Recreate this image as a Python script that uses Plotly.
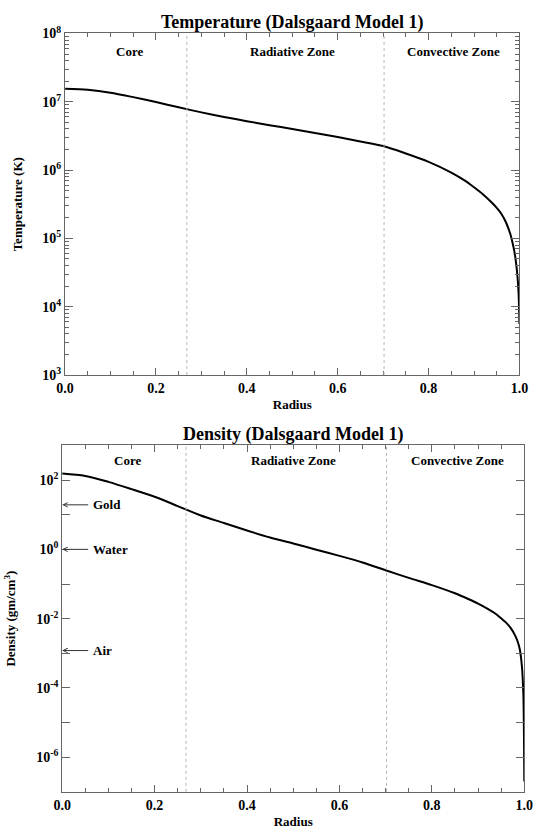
import math
import plotly.graph_objects as go

# ---------------- data ----------------
RADIUS_T = [0.0, 0.05, 0.1, 0.15, 0.2, 0.25, 0.3, 0.35, 0.4, 0.45, 0.5, 0.55, 0.6,
            0.65, 0.7, 0.75, 0.8, 0.85, 0.88, 0.9, 0.92, 0.94, 0.95, 0.96, 0.97,
            0.98, 0.985, 0.99, 0.995, 0.998, 0.999, 1.0]
TEMPERATURE = [1.55e7, 1.50e7, 1.36e7, 1.17e7, 9.9e6, 8.3e6, 7.0e6, 6.0e6, 5.2e6,
               4.55e6, 4.0e6, 3.5e6, 3.05e6, 2.62e6, 2.25e6, 1.75e6, 1.32e6, 9.2e5,
               7.0e5, 5.6e5, 4.4e5, 3.3e5, 2.8e5, 2.3e5, 1.74e5, 1.15e5, 8.5e4,
               5.8e4, 3.1e4, 1.6e4, 1.0e4, 5.6e3]

RADIUS_D = [0.0, 0.05, 0.1, 0.15, 0.2, 0.25, 0.3, 0.35, 0.4, 0.45, 0.5, 0.55, 0.6,
            0.65, 0.7, 0.75, 0.8, 0.85, 0.88, 0.9, 0.92, 0.94, 0.95, 0.96, 0.97,
            0.98, 0.985, 0.99, 0.995, 0.998, 0.999, 0.9995, 1.0]
DENSITY = [155, 132, 89, 55, 33, 17.8, 9.5, 5.8, 3.5, 2.2, 1.48, 0.98, 0.65, 0.42,
           0.25, 0.15, 0.093, 0.054, 0.0363, 0.0272, 0.0195, 0.0132, 0.0102, 0.0078,
           0.0055, 0.0033, 0.0023, 0.00135, 4.0e-4, 6.3e-5, 1.0e-5, 2.0e-6, 2.0e-7]

ZONE_BOUNDARIES = [0.268, 0.702]
ZONE_NAMES = ["Core", "Radiative Zone", "Convective Zone"]
ZONE_LABEL_X = [0.142, 0.50, 0.855]

REF_NAMES = ["Gold", "Water", "Air"]
REF_DENSITY = [19.3, 1.0, 1.2e-3]

T_DECADES = [3, 4, 5, 6, 7, 8]
D_LABELED = [-6, -4, -2, 0, 2]
D_UNLABELED = [-7, -5, -3, -1, 1, 3]

# ---------------- figure ----------------
W, H = 542, 839
FONT = "Liberation Serif"
AXCOL = "#666666"


def px_x(p):
    return p / W


def px_y(p):
    return 1 - p / H


fig = go.Figure()
fig.add_trace(go.Scatter(x=RADIUS_T, y=TEMPERATURE, mode="lines",
                         line=dict(color="black", width=2, shape="spline", smoothing=0.8),
                         xaxis="x", yaxis="y", showlegend=False))
fig.add_trace(go.Scatter(x=RADIUS_D, y=DENSITY, mode="lines",
                         line=dict(color="black", width=2, shape="spline", smoothing=0.8),
                         xaxis="x2", yaxis="y2", showlegend=False))


def sup(n):
    return "10<sup>%d</sup>" % n


t_minor = [m * 10 ** d for d in T_DECADES[:-1] for m in range(2, 10)]

BOLD = dict(family=FONT, color="black", weight="bold")

xcommon = dict(range=[0, 1], showline=True, linecolor=AXCOL, linewidth=1,
               mirror="allticks", ticks="inside", ticklen=7, tickcolor=AXCOL,
               dtick=0.2, tick0=0, tickformat=".1f", showgrid=False, zeroline=False,
               minor=dict(dtick=0.05, ticks="inside", ticklen=4, tickcolor=AXCOL),
               tickfont=dict(size=14, **BOLD),
               title=dict(text="Radius", standoff=5, font=dict(size=13, **BOLD)))

fig.update_layout(
    width=W, height=H, margin=dict(l=0, r=0, t=0, b=0),
    paper_bgcolor="white", plot_bgcolor="white",
    font=dict(family=FONT, color="black"),
    xaxis=dict(domain=[px_x(58), px_x(528)], anchor="y", **xcommon),
    xaxis2=dict(domain=[px_x(55), px_x(533)], anchor="y2", **xcommon),
    yaxis=dict(type="log", range=[3, 8], domain=[px_y(373), px_y(24)], anchor="x",
               showline=True, linecolor=AXCOL, linewidth=1, mirror="allticks",
               ticks="inside", ticklen=8, tickcolor=AXCOL, showgrid=False,
               tickmode="array", tickvals=[10 ** d for d in T_DECADES],
               ticktext=[sup(d) for d in T_DECADES],
               minor=dict(tickmode="array", tickvals=t_minor, ticks="inside",
                          ticklen=4, tickcolor=AXCOL),
               tickfont=dict(size=14, **BOLD),
               title=dict(text="Temperature (K)", standoff=16, font=dict(size=13, **BOLD))),
    yaxis2=dict(type="log", range=[-7, 3], domain=[px_y(799), px_y(445)], anchor="x2",
                showline=True, linecolor=AXCOL, linewidth=1, mirror="allticks",
                ticks="inside", ticklen=8, tickcolor=AXCOL, showgrid=False,
                tickmode="array", tickvals=[10 ** d for d in D_LABELED],
                ticktext=[sup(d) for d in D_LABELED],
                minor=dict(tickmode="array", tickvals=[10 ** d for d in D_UNLABELED],
                           ticks="inside", ticklen=8, tickcolor=AXCOL),
                tickfont=dict(size=14, **BOLD),
                title=dict(text="Density (gm/cm<sup>3</sup>)", standoff=17,
                           font=dict(size=13, **BOLD))),
)

# zone boundary lines
for xa, ya in (("x", "y"), ("x2", "y2")):
    for b in ZONE_BOUNDARIES:
        fig.add_shape(type="line", xref=xa, yref=ya + " domain", x0=b, x1=b, y0=0, y1=1,
                      line=dict(color="#b5b5b5", width=1, dash="dot"))

annots = []
annots.append(dict(text="Temperature (Dalsgaard Model 1)", xref="x domain", yref="paper",
                   x=0.5, y=px_y(13), showarrow=False, yanchor="middle",
                   font=dict(size=18, **BOLD)))
annots.append(dict(text="Density (Dalsgaard Model 1)", xref="x2 domain", yref="paper",
                   x=0.5, y=px_y(434), showarrow=False, yanchor="middle",
                   font=dict(size=18, **BOLD)))
for name, zx in zip(ZONE_NAMES, ZONE_LABEL_X):
    annots.append(dict(text=name, xref="x", yref="y domain", x=zx, y=0.946,
                       showarrow=False, yanchor="middle", font=dict(size=13, **BOLD)))
    annots.append(dict(text=name, xref="x2", yref="y2 domain", x=zx, y=0.958,
                       showarrow=False, yanchor="middle", font=dict(size=13, **BOLD)))
for name, d in zip(REF_NAMES, REF_DENSITY):
    annots.append(dict(text=name, xref="x2", yref="y2", x=0, y=math.log10(d),
                       showarrow=True, arrowhead=5, arrowsize=0.9, arrowwidth=1,
                       arrowcolor="#333333", ax=26, ay=0, xanchor="left",
                       borderpad=4, font=dict(size=13, **BOLD)))
fig.update_layout(annotations=annots)

fig.write_html("out.html")
